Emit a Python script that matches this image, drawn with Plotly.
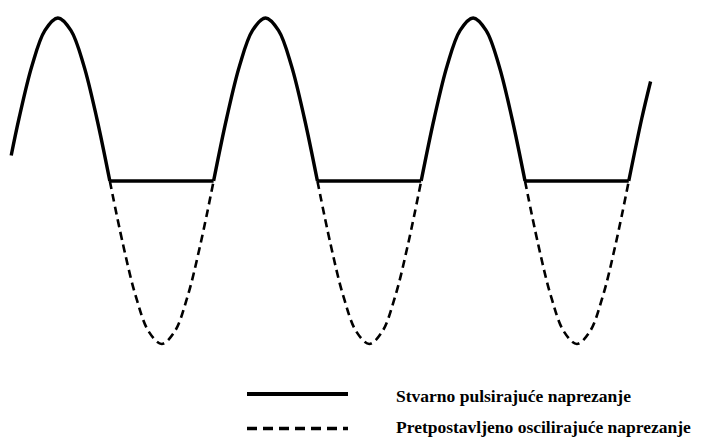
import plotly.graph_objects as go

# Time in quarter-periods, stress as fraction of amplitude
arch_t = [
    [0.1, 0.25, 0.5, 0.75, 1.0, 1.25, 1.5, 1.75, 2.0],
    [4.0, 4.25, 4.5, 4.75, 5.0, 5.25, 5.5, 5.75, 6.0],
    [8.0, 8.25, 8.5, 8.75, 9.0, 9.25, 9.5, 9.75, 10.0],
    [12.0, 12.25, 12.42],
]
arch_y = [
    [0.156, 0.383, 0.707, 0.924, 1.0, 0.924, 0.707, 0.383, 0.0],
    [0.0, 0.383, 0.707, 0.924, 1.0, 0.924, 0.707, 0.383, 0.0],
    [0.0, 0.383, 0.707, 0.924, 1.0, 0.924, 0.707, 0.383, 0.0],
    [0.0, 0.383, 0.61],
]
flat_t = [[2.0, 4.0], [6.0, 8.0], [10.0, 12.0]]
flat_y = [[0.0, 0.0], [0.0, 0.0], [0.0, 0.0]]
trough_t = [
    [2.0, 2.25, 2.5, 2.75, 3.0, 3.25, 3.5, 3.75, 4.0],
    [6.0, 6.25, 6.5, 6.75, 7.0, 7.25, 7.5, 7.75, 8.0],
    [10.0, 10.25, 10.5, 10.75, 11.0, 11.25, 11.5, 11.75, 12.0],
]
trough_y = [
    [0.0, -0.383, -0.707, -0.924, -1.0, -0.924, -0.707, -0.383, 0.0],
    [0.0, -0.383, -0.707, -0.924, -1.0, -0.924, -0.707, -0.383, 0.0],
    [0.0, -0.383, -0.707, -0.924, -1.0, -0.924, -0.707, -0.383, 0.0],
]
legend_labels = ["Stvarno pulsirajuće naprezanje", "Pretpostavljeno oscilirajuće naprezanje"]

fig = go.Figure()
for tt, yy in zip(trough_t, trough_y):
    fig.add_trace(go.Scatter(x=tt, y=yy, mode="lines", line=dict(color="black", width=2.6, dash="8px,5px", shape="spline"),
                             showlegend=False, hoverinfo="skip"))
for tt, yy in zip(arch_t, arch_y):
    fig.add_trace(go.Scatter(x=tt, y=yy, mode="lines", line=dict(color="black", width=3.4, shape="spline"),
                             showlegend=False, hoverinfo="skip"))
for tt, yy in zip(flat_t, flat_y):
    fig.add_trace(go.Scatter(x=tt, y=yy, mode="lines", line=dict(color="black", width=3.4),
                             showlegend=False, hoverinfo="skip"))

W, H = 710, 437
def px(x): return x / W
def py(y): return 1 - y / H

shapes = [
    dict(type="line", xref="paper", yref="paper", x0=px(247), x1=px(348), y0=py(394), y1=py(394),
         line=dict(color="black", width=4)),
    dict(type="line", xref="paper", yref="paper", x0=px(247), x1=px(348), y0=py(428.5), y1=py(428.5),
         line=dict(color="black", width=3.5, dash="10px,6px")),
]
annotations = [
    dict(text="<b>%s</b>" % legend_labels[0], xref="paper", yref="paper", x=px(394), y=py(395.5),
         xanchor="left", yanchor="middle", showarrow=False,
         font=dict(family="Liberation Serif", size=17.5, color="black")),
    dict(text="<b>%s</b>" % legend_labels[1], xref="paper", yref="paper", x=px(394), y=py(427),
         xanchor="left", yanchor="middle", showarrow=False,
         font=dict(family="Liberation Serif", size=17.5, color="black")),
]

fig.update_layout(
    width=W, height=H,
    margin=dict(l=0, r=0, t=0, b=0),
    paper_bgcolor="white", plot_bgcolor="white",
    xaxis=dict(range=[-0.116, 13.565], visible=False, fixedrange=True),
    yaxis=dict(range=[-1.571, 1.110], visible=False, fixedrange=True),
    shapes=shapes, annotations=annotations,
    showlegend=False,
)
fig.write_html("out.html", config={"displayModeBar": False},
               post_script="document.body.style.margin='0';document.body.style.overflow='hidden';")
